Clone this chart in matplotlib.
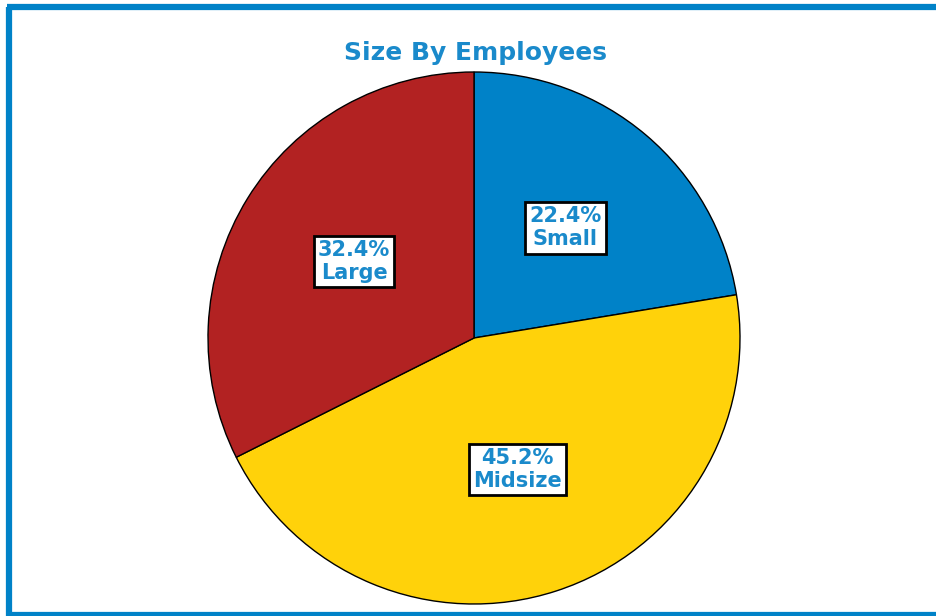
import matplotlib
matplotlib.use('Agg')
import matplotlib.pyplot as plt
from matplotlib.lines import Line2D
import numpy as np

# Datos del gráfico
categories = ['Small', 'Midsize', 'Large']
shares = [22.4, 45.2, 32.4]
colors = ['#0082C8', '#FFD20A', '#B22222']

W, H = 937, 616
fig = plt.figure(figsize=(W / 100, H / 100), dpi=100)

# Centro y radio del pastel en pixeles
cx, cy, r = 474, 338, 266
ax = fig.add_axes([(cx - r) / W, (H - cy - r) / H, 2 * r / W, 2 * r / H])

wedges, _ = ax.pie(shares, colors=colors, startangle=90, counterclock=False,
                   wedgeprops={'edgecolor': 'black', 'linewidth': 1.0})

# Etiquetas dentro de cada porción
for w, cat, val in zip(wedges, categories, shares):
    ang = np.deg2rad((w.theta1 + w.theta2) / 2)
    x, y = 0.53 * np.cos(ang), 0.53 * np.sin(ang)
    ax.text(x, y + 0.01, f'{val:.1f}%\n{cat}', ha='center', va='center',
            fontsize=15, fontweight='bold', color='#1A8ACB', linespacing=1.2,
            bbox=dict(facecolor='white', edgecolor='black', linewidth=2.0,
                      boxstyle='square,pad=0.2'))

ax.set_xlim(-1, 1)
ax.set_ylim(-1, 1)
ax.set_aspect('equal')
ax.axis('off')

fig.text(476 / W, 1 - 53 / H, 'Size By Employees', ha='center', va='center',
         fontsize=18, fontweight='bold', color='#1A8ACB')

# Marco azul (arriba, izquierda, abajo)
frame = '#0082C8'
fig.add_artist(Line2D([9.5 / W, 9.5 / W], [0, 1 - 7 / H], color=frame, lw=4.5,
                      transform=fig.transFigure, solid_capstyle='butt'))
fig.add_artist(Line2D([7 / W, 1], [1 - 7 / H, 1 - 7 / H], color=frame, lw=4.5,
                      transform=fig.transFigure, solid_capstyle='butt'))
fig.add_artist(Line2D([7 / W, 1], [1.5 / H, 1.5 / H], color=frame, lw=4.5,
                      transform=fig.transFigure, solid_capstyle='butt'))

fig.savefig('out.png', dpi=100)
